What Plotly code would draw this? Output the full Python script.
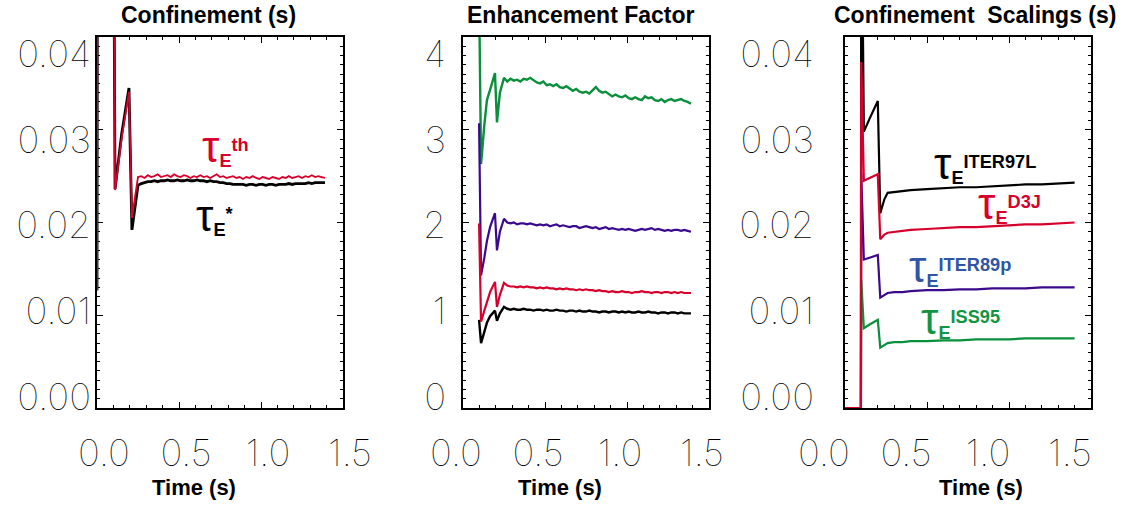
import plotly.graph_objects as go

# ---------------- data ----------------
# Panel 1: Confinement (s)
t_conf = [0.0, 0.004, 0.096, 0.11, 0.15, 0.195, 0.213, 0.25,
          0.27, 0.29, 0.31, 0.33, 0.35, 0.37, 0.39, 0.41, 0.43, 0.45,
          0.47, 0.49, 0.51, 0.53, 0.55, 0.57, 0.59, 0.61, 0.63, 0.65,
          0.67, 0.69, 0.71, 0.73, 0.75, 0.77, 0.79, 0.81, 0.83, 0.85,
          0.87, 0.89, 0.91, 0.93, 0.95, 0.97, 0.99, 1.01, 1.03, 1.05,
          1.07, 1.09, 1.11, 1.13, 1.15, 1.17, 1.19, 1.21, 1.23, 1.25,
          1.27, 1.29, 1.31, 1.33, 1.35, 1.37, 1.39]
tau_th = [0.0127, 0.075, 0.075, 0.0235, 0.0290, 0.0341, 0.0205, 0.0249,
          0.0250, 0.0248, 0.0251, 0.0249, 0.0250, 0.0252, 0.0249, 0.0250, 0.0251, 0.0249,
          0.0252, 0.0250, 0.0249, 0.0251, 0.0250, 0.0248, 0.0250, 0.0249, 0.0251, 0.0249,
          0.0250, 0.0248, 0.0250, 0.0252, 0.0249, 0.0250, 0.0248, 0.0249, 0.0250, 0.0248,
          0.0249, 0.0247, 0.0249, 0.0248, 0.0250, 0.0248, 0.0247, 0.0249, 0.0248, 0.0247,
          0.0249, 0.0248, 0.0247, 0.0249, 0.0248, 0.0250, 0.0248, 0.0249, 0.0250, 0.0248,
          0.0250, 0.0249, 0.0251, 0.0249, 0.0250, 0.0249, 0.0248]
tau_star = [0.0127, 0.075, 0.075, 0.0236, 0.0295, 0.0345, 0.0192, 0.0240,
            0.0242, 0.0243, 0.0244, 0.0244, 0.0245, 0.0244, 0.0245, 0.0245, 0.0246, 0.0245,
            0.0245, 0.0246, 0.0245, 0.0245, 0.0246, 0.0245, 0.0245, 0.0246, 0.0245, 0.0245,
            0.0244, 0.0245, 0.0244, 0.0244, 0.0243, 0.0243, 0.0242, 0.0242, 0.0241, 0.0241,
            0.0241, 0.0241, 0.0240, 0.0241, 0.0241, 0.0240, 0.0241, 0.0241, 0.0240, 0.0241,
            0.0241, 0.0240, 0.0241, 0.0241, 0.0241, 0.0242, 0.0241, 0.0242, 0.0242, 0.0242,
            0.0242, 0.0243, 0.0242, 0.0243, 0.0243, 0.0243, 0.0243]

# Panel 2: Enhancement Factor
t_enh = [0.098, 0.11, 0.13, 0.146, 0.165, 0.195, 0.207, 0.225, 0.25,
         0.27, 0.29, 0.31, 0.33, 0.35, 0.37, 0.39, 0.41, 0.43, 0.45,
         0.47, 0.49, 0.51, 0.53, 0.55, 0.57, 0.59, 0.61, 0.63, 0.65,
         0.67, 0.69, 0.71, 0.73, 0.75, 0.77, 0.79, 0.81, 0.83, 0.85,
         0.87, 0.89, 0.91, 0.93, 0.95, 0.97, 0.99, 1.01, 1.03, 1.05,
         1.07, 1.09, 1.11, 1.13, 1.15, 1.17, 1.19, 1.21, 1.23, 1.25,
         1.27, 1.29, 1.31, 1.33, 1.35, 1.37, 1.39]
enh_green = [4.5, 2.63, 3.05, 3.32, 3.43, 3.61, 3.08, 3.40, 3.56,
             3.52, 3.55, 3.53, 3.54, 3.52, 3.55, 3.54, 3.56, 3.53, 3.51,
             3.50, 3.52, 3.48, 3.49, 3.47, 3.49, 3.46, 3.45, 3.47, 3.44,
             3.42, 3.44, 3.41, 3.40, 3.41, 3.39, 3.42, 3.46, 3.42, 3.40,
             3.41, 3.38, 3.36, 3.38, 3.36, 3.35, 3.37, 3.34, 3.33, 3.35,
             3.33, 3.32, 3.36, 3.34, 3.35, 3.32, 3.31, 3.33, 3.30, 3.32,
             3.33, 3.31, 3.32, 3.33, 3.31, 3.30, 3.28]
enh_purple = [3.07, 1.43, 1.62, 1.80, 1.95, 2.10, 1.70, 1.90, 2.04,
              2.00, 1.99, 2.00, 1.98, 1.99, 1.99, 1.98, 1.99, 1.98, 1.97,
              1.98, 1.97, 1.98, 1.96, 1.97, 1.98, 1.96, 1.97, 1.96, 1.95,
              1.96, 1.96, 1.94, 1.95, 1.96, 1.95, 1.94, 1.95, 1.93, 1.94,
              1.95, 1.93, 1.94, 1.93, 1.92, 1.93, 1.92, 1.93, 1.92, 1.91,
              1.92, 1.93, 1.92, 1.93, 1.94, 1.92, 1.93, 1.92, 1.91, 1.92,
              1.91, 1.92, 1.92, 1.91, 1.92, 1.91, 1.90]
enh_red = [1.99, 0.93, 1.05, 1.15, 1.25, 1.36, 1.09, 1.22, 1.35,
           1.32, 1.31, 1.31, 1.30, 1.31, 1.30, 1.31, 1.30, 1.30, 1.29,
           1.30, 1.29, 1.30, 1.29, 1.29, 1.28, 1.29, 1.28, 1.29, 1.28,
           1.28, 1.27, 1.28, 1.27, 1.28, 1.27, 1.27, 1.26, 1.27, 1.26,
           1.26, 1.25, 1.26, 1.25, 1.25, 1.26, 1.25, 1.25, 1.24, 1.25,
           1.25, 1.26, 1.25, 1.25, 1.24, 1.25, 1.25, 1.24, 1.25, 1.25,
           1.24, 1.25, 1.24, 1.25, 1.24, 1.24, 1.24]
enh_black = [0.95, 0.70, 0.82, 0.92, 0.99, 1.05, 0.94, 1.02, 1.09,
             1.07, 1.06, 1.07, 1.06, 1.06, 1.07, 1.06, 1.06, 1.05, 1.06,
             1.06, 1.05, 1.06, 1.05, 1.05, 1.06, 1.05, 1.05, 1.04, 1.05,
             1.05, 1.04, 1.05, 1.04, 1.04, 1.05, 1.04, 1.04, 1.03, 1.04,
             1.04, 1.03, 1.04, 1.04, 1.03, 1.04, 1.03, 1.04, 1.03, 1.03,
             1.04, 1.03, 1.03, 1.04, 1.03, 1.03, 1.02, 1.03, 1.03, 1.02,
             1.03, 1.03, 1.02, 1.03, 1.02, 1.02, 1.02]

# Panel 3: Confinement Scalings (s)
t_scal = [0.0, 0.097, 0.099, 0.115, 0.15, 0.20, 0.215, 0.24, 0.26, 0.30, 0.35,
          0.40, 0.50, 0.60, 0.70, 0.80, 0.90, 1.00, 1.10, 1.20, 1.30, 1.40]
tau_iter97l = [0.0, 0.0, 0.06, 0.0298, 0.0312, 0.0331, 0.0210, 0.0225, 0.0232, 0.0233, 0.0234,
               0.0235, 0.0236, 0.0237, 0.0238, 0.0238, 0.0239, 0.0240, 0.0241, 0.0241, 0.0242, 0.0243]
tau_d3j = [0.0, 0.0, 0.0373, 0.0245, 0.0248, 0.0252, 0.0182, 0.0187, 0.0189, 0.0190, 0.0191,
           0.0192, 0.0193, 0.0194, 0.0195, 0.0195, 0.0196, 0.0197, 0.0198, 0.0198, 0.0199, 0.0200]
tau_iter89p = [0.0, 0.0, 0.0253, 0.0160, 0.0162, 0.0165, 0.0119, 0.0122, 0.0124, 0.0125, 0.0125,
               0.0126, 0.0127, 0.0127, 0.0128, 0.0128, 0.0129, 0.0129, 0.0129, 0.0130, 0.0130, 0.0130]
tau_iss95 = [0.0, 0.0, 0.0138, 0.0086, 0.0090, 0.0095, 0.0065, 0.0068, 0.0070, 0.0071, 0.0071,
             0.0072, 0.0072, 0.0073, 0.0073, 0.0074, 0.0074, 0.0074, 0.0075, 0.0075, 0.0075, 0.0075]

panel_titles = ["Confinement (s)", "Enhancement Factor", "Confinement\u00a0 Scalings (s)"]
x_title = "Time (s)"
x_tick_vals = [0.0, 0.5, 1.0, 1.5]
y_ticks_conf = [0.00, 0.01, 0.02, 0.03, 0.04]
y_ticks_enh = [0, 1, 2, 3, 4]

# ---------------- styling ----------------
RED = "#d7002d"
BLACK = "#000000"
GREEN = "#0a8f3c"
PURPLE = "#3b0a8c"
LBLUE = "#2f55a4"
LGREEN = "#139443"

W, H = 1129, 506
PLOT_TOP, PLOT_BOT = 37, 408
panels_px = [(97, 343), (463, 709), (845, 1091)]
ydom = [(H - PLOT_BOT) / H, (H - PLOT_TOP) / H]

TICKFONT = dict(family="Inter", size=37, color="black", weight=100)
TITLEFONT = dict(family="Liberation Sans, Arial", size=23, color="black")

fig = go.Figure()

def add_line(x, y, color, width, xa, ya):
    fig.add_trace(go.Scatter(x=x, y=y, mode="lines", line=dict(color=color, width=width),
                             xaxis=xa, yaxis=ya, showlegend=False, hoverinfo="skip"))

add_line(t_conf, tau_star, BLACK, 2.8, "x", "y")
add_line(t_conf, tau_th, RED, 1.8, "x", "y")

add_line(t_enh, enh_green, GREEN, 2.4, "x2", "y2")
add_line(t_enh, enh_purple, PURPLE, 2.2, "x2", "y2")
add_line(t_enh, enh_black, BLACK, 2.4, "x2", "y2")
add_line(t_enh, enh_red, RED, 2.2, "x2", "y2")

add_line(t_scal, tau_iter97l, BLACK, 2.2, "x3", "y3")
add_line(t_scal, tau_iter89p, PURPLE, 2.2, "x3", "y3")
add_line(t_scal, tau_iss95, GREEN, 2.2, "x3", "y3")
add_line(t_scal, tau_d3j, RED, 2.2, "x3", "y3")

# empty traces so the label-only overlay axes get drawn
for i in range(3):
    n = "" if i == 0 else str(i + 1)
    fig.add_trace(go.Scatter(x=[], y=[], mode="lines", xaxis="x" + n, yaxis="y" + str(i + 4),
                             showlegend=False, hoverinfo="skip"))

# label position quirk: labels spread between these pixel rows
LAB_TOP_PX, LAB_BOT_PX = 54, 397
f_top = (PLOT_BOT - LAB_TOP_PX) / (PLOT_BOT - PLOT_TOP)
f_bot = (PLOT_BOT - LAB_BOT_PX) / (PLOT_BOT - PLOT_TOP)

def label_range(lo, hi):
    span = (hi - lo) / (f_top - f_bot)
    start = lo - f_bot * span
    return [start, start + span]

axis_common = dict(showgrid=False, zeroline=False, showline=True, linecolor="black",
                   linewidth=1.5, mirror="ticks", ticks="inside", ticklen=6, tickwidth=1.2,
                   tickcolor="black", layer="below traces", automargin=False)

x_shift = [7, -7, -21]
y_cfg = [
    dict(rng=[0, 0.04], dtick=0.01, minor=0.001, fmt=".2f", vals=y_ticks_conf, standoff=5),
    dict(rng=[0, 4], dtick=1, minor=0.1, fmt="d", vals=y_ticks_enh, standoff=16),
    dict(rng=[0, 0.04], dtick=0.01, minor=0.001, fmt=".2f", vals=y_ticks_conf, standoff=30),
]

layout = dict(width=W, height=H, margin=dict(l=0, r=0, t=0, b=0, autoexpand=False),
              paper_bgcolor="white", plot_bgcolor="white", showlegend=False)

for i, (x0, x1) in enumerate(panels_px):
    n = "" if i == 0 else str(i + 1)
    layout["xaxis" + n] = dict(axis_common, domain=[x0 / W, x1 / W], range=[0, 1.5],
                               anchor="y" + n, tickvals=x_tick_vals, ticktext=["%.1f" % v for v in x_tick_vals],
                               minor=dict(dtick=0.1, tick0=0, ticks="inside", ticklen=3, tickcolor="black", tickwidth=1),
                               tickfont=TICKFONT, ticklabelshift=x_shift[i], ticklabelstandoff=12)
    c = y_cfg[i]
    layout["yaxis" + n] = dict(axis_common, domain=ydom, range=c["rng"], anchor="x" + n,
                               dtick=c["dtick"], tick0=0, showticklabels=False,
                               minor=dict(dtick=c["minor"], tick0=0, ticks="inside", ticklen=3, tickcolor="black", tickwidth=1))
    m = str(i + 4)
    layout["yaxis" + m] = dict(overlaying="y" + n, anchor="x" + n, side="left",
                               range=label_range(c["rng"][0], c["rng"][1]),
                               tickvals=c["vals"], tickformat=c["fmt"], ticks="", showline=False,
                               showgrid=False, zeroline=False, tickfont=TICKFONT, automargin=False,
                               ticklabelstandoff=c["standoff"])

fig.update_layout(**layout)

# titles
title_pos = [(208, 15), (581, 15), (975, 15)]
for (px, py), txt in zip(title_pos, panel_titles):
    fig.add_annotation(x=px / W, y=1 - py / H, xref="paper", yref="paper", text="<b>%s</b>" % txt,
                       showarrow=False, font=TITLEFONT, xanchor="center", yanchor="middle")
for px in (194, 560, 981):
    fig.add_annotation(x=px / W, y=1 - 487 / H, xref="paper", yref="paper", text="<b>%s</b>" % x_title,
                       showarrow=False, font=dict(TITLEFONT, size=22), xanchor="center", yanchor="middle")

def tau_label(x, y, sup, color, xr, yr):
    txt = ('<span style="font-size:44px">τ</span><sub><b>E</b></sub><sup><b>%s</b></sup>' % sup)
    fig.add_annotation(x=x, y=y, xref=xr, yref=yr, text=txt, showarrow=False,
                       font=dict(family="Liberation Sans, Arial", size=26, color=color),
                       xanchor="left", yanchor="middle")

tau_label(0.63, 0.0282, "th", RED, "x", "y")
tau_label(0.59, 0.0208, "*", BLACK, "x", "y")
tau_label(0.53, 0.0264, "ITER97L", BLACK, "x3", "y3")
tau_label(0.80, 0.0220, "D3J", RED, "x3", "y3")
tau_label(0.375, 0.0153, "ITER89p", LBLUE, "x3", "y3")
tau_label(0.45, 0.0097, "ISS95", LGREEN, "x3", "y3")

fig.write_html("out.html")
